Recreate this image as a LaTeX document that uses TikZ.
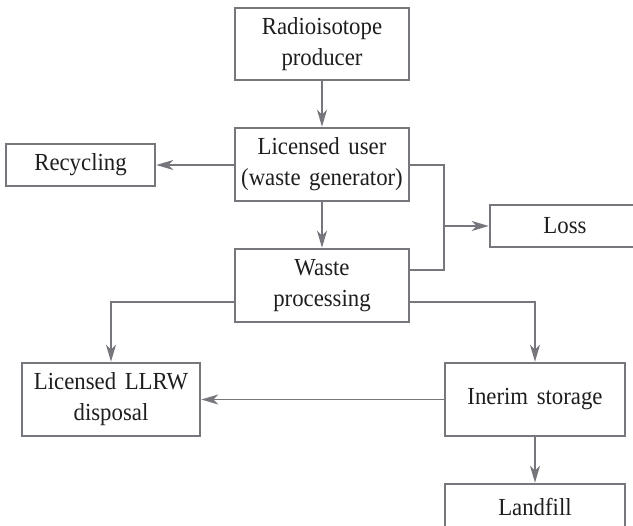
\documentclass[tikz,border=0pt]{standalone}
\usepackage{fontspec}
\setmainfont{Liberation Serif}[FakeStretch=0.93,WordSpace=1.5]
\usetikzlibrary{arrows.meta}
\definecolor{linegray}{RGB}{118,118,124}
\definecolor{textgray}{RGB}{30,30,30}
\begin{document}
\begin{tikzpicture}[x=1pt,y=-1pt,
  box/.style={draw=linegray,line width=2.6pt,fill=white,text=textgray,align=center,
    inner sep=0pt,font=\fontsize{24.5}{31}\selectfont},
  conn/.style={draw=linegray,line width=1.5pt},
  arr/.style={conn,-{Stealth[length=17pt,width=10pt,inset=5pt]}}]
\useasboundingbox (0,0) rectangle (633,526);
\fill[white] (0,0) rectangle (633,526);
\node[box,minimum width=174pt,minimum height=72pt] (prod) at (322,44) {Radioisotope\\producer};
\node[box,minimum width=174pt,minimum height=73pt] (user) at (322,164.5) {Licensed user\\(waste generator)};
\node[box,minimum width=149pt,minimum height=42pt] (rec) at (80.5,165) {Recycling};
\node[box,minimum width=150pt,minimum height=42pt] (loss) at (565,226) {Loss};
\node[box,minimum width=174pt,minimum height=73pt] (wp) at (322,285.5) {Waste\\processing};
\node[box,minimum width=178pt,minimum height=73pt] (llrw) at (111,399.5) {Licensed LLRW\\disposal};
\node[box,minimum width=180pt,minimum height=73pt] (inerim) at (535,399.5) {Inerim storage};
\node[box,minimum width=180pt,minimum height=46pt] (land) at (535,507) {Landfill};
\coordinate (j1) at (444,165);
\coordinate (j2) at (444,270);
\coordinate (jl) at (444,226);
\coordinate (wl) at (111,302);
\coordinate (wr) at (535,302);
\draw[arr] (prod.south) -- (user.north);
\draw[arr] (user.west |- rec.east) -- (rec.east);
\draw[arr] (user.south) -- (wp.north);
\draw[conn] (user.east |- j1) -- (j1) -- (j2) -- (wp.east |- j2);
\draw[arr] (jl) -- (loss.west);
\draw[arr] (wp.west |- wl) -- (wl) -- (llrw.north);
\draw[arr] (wp.east |- wr) -- (wr) -- (inerim.north);
\draw[arr] (inerim.west) -- (llrw.east);
\draw[arr] (inerim.south) -- (land.north);
\end{tikzpicture}
\end{document}
